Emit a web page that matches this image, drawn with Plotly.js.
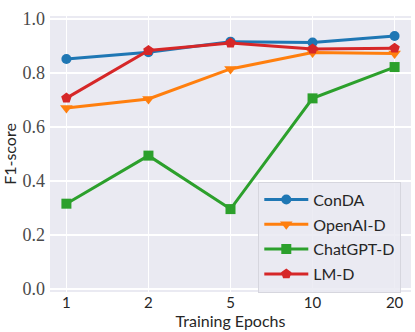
<!DOCTYPE html>
<html>
<head>
<meta charset="utf-8">
<script src="https://cdn.plot.ly/plotly-3.0.1.min.js"></script>
<style>
  html, body { margin: 0; padding: 0; background: #fff; }
  #chart { width: 415px; height: 332px; }
</style>
</head>
<body>
<div id="chart"></div>
<script>
// epochs on the x axis (evenly spaced categories)
const epochs = ["1", "2", "5", "10", "20"];

// F1-scores
const conda    = [0.852, 0.877, 0.916, 0.913, 0.937];
const openai   = [0.670, 0.704, 0.815, 0.876, 0.872];
const chatgpt  = [0.316, 0.494, 0.296, 0.706, 0.822];
const lmd      = [0.707, 0.883, 0.911, 0.889, 0.892];

const yTicks = [0, 0.2, 0.4, 0.6, 0.8, 1.0];
const yTickText = ["0.0", "0.2", "0.4", "0.6", "0.8", "1.0"];

const xIdx = epochs.map((e, i) => i);

function series(name, y, color, symbol, size) {
  return {
    x: xIdx,
    y: y,
    name: name,
    legendgroup: name,
    type: "scatter",
    mode: "lines+markers",
    line: { color: color, width: 3 },
    marker: { color: color, symbol: symbol, size: size }
  };
}

const traces = [
  series("ConDA", conda, "#1f77b4", "circle", 10),
  series("OpenAI-D", openai, "#ff7f0e", "triangle-down", 11),
  series("ChatGPT-D", chatgpt, "#2ca02c", "square", 10),
  series("LM-D", lmd, "#d62728", "pentagon", 11)
];

const sans = "Lato, DejaVu Sans";

const layout = {
  width: 415,
  height: 332,
  margin: { l: 50, r: 4, t: 16, b: 40 },
  paper_bgcolor: "#ffffff",
  plot_bgcolor: "#eaeaf2",
  font: { family: sans, color: "#262626", size: 15 },
  showlegend: true,
  legend: {
    x: 0.577, y: 0.4, xanchor: "left", yanchor: "top",
    bgcolor: "rgba(234,234,242,0.85)",
    bordercolor: "#d6d6de",
    borderwidth: 1,
    font: { family: sans, size: 16, color: "#262626" },
    itemwidth: 44,
    tracegroupgap: 1
  },
  xaxis: {
    range: [-0.2, 4.2],
    tickvals: xIdx,
    ticktext: epochs,
    showgrid: true,
    gridcolor: "#ffffff",
    gridwidth: 1.2,
    zeroline: false,
    showline: false,
    ticks: "",
    tickfont: { family: sans, size: 15, color: "#262626" },
    title: { text: "Training Epochs", font: { family: sans, size: 16, color: "#262626" }, standoff: 5 }
  },
  yaxis: {
    range: [-0.011, 1.011],
    tickvals: yTicks,
    ticktext: yTickText,
    showgrid: true,
    gridcolor: "#ffffff",
    gridwidth: 1.2,
    zeroline: false,
    showline: false,
    ticks: "",
    ticklabelstandoff: 4,
    tickfont: { family: "Liberation Serif", size: 18, color: "#4a4a4a" },
    title: { text: "F1-score", font: { family: sans, size: 16, color: "#262626" }, standoff: 6 }
  }
};

Plotly.newPlot("chart", traces, layout, { displayModeBar: false, staticPlot: true });
</script>
</body>
</html>
